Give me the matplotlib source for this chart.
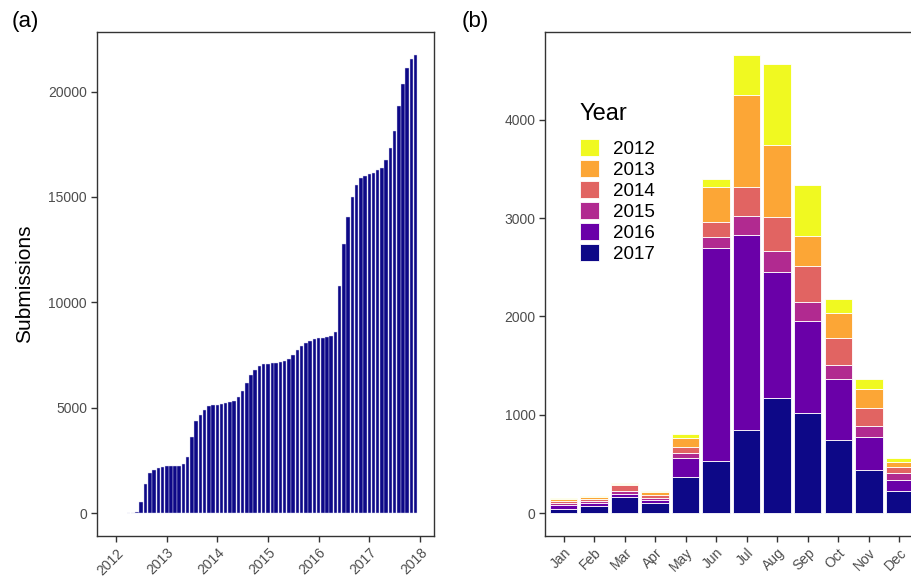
import matplotlib
matplotlib.use("Agg")
import matplotlib.pyplot as plt
import matplotlib.dates as mdates
import numpy as np
import pandas as pd

plt.rcParams['font.family'] = ['Liberation Sans', 'DejaVu Sans']

# ---------------- Panel (a): cumulative submissions ----------------
months_a = pd.date_range('2012-04-01', '2017-12-01', freq='MS')
cumulative = [5, 10, 40, 537, 1392, 1898, 2040, 2136, 2199, 2215, 2215, 2246,
              2246, 2325, 2674, 3623, 4351, 4651, 4904, 5095, 5127, 5143, 5174, 5222,
              5285, 5332, 5490, 5807, 6155, 6535, 6788, 6978, 7057, 7089, 7104, 7136,
              7168, 7215, 7326, 7516, 7737, 7927, 8069, 8180, 8259, 8291, 8322, 8354,
              8385, 8592, 10776, 12782, 14043, 14976, 15592, 15908, 16019, 16082, 16130, 16303,
              16398, 16777, 17314, 18152, 19305, 20348, 21104, 21531, 21739]
year_ticks = ['2012', '2013', '2014', '2015', '2016', '2017', '2018']
yticks_a = [0, 5000, 10000, 15000, 20000]

# ---------------- Panel (b): submissions by month and year ----------------
month_labels = ['Jan', 'Feb', 'Mar', 'Apr', 'May', 'Jun', 'Jul', 'Aug', 'Sep', 'Oct', 'Nov', 'Dec']
years = ['2012', '2013', '2014', '2015', '2016', '2017']
y2012 = [13, 15, 9, 15, 41, 85, 403, 833, 515, 143, 101, 37]
y2013 = [20, 20, 13, 24, 88, 352, 934, 727, 311, 250, 190, 51]
y2014 = [24, 22, 60, 34, 61, 156, 302, 349, 362, 277, 183, 61]
y2015 = [20, 19, 27, 23, 54, 108, 186, 213, 197, 139, 114, 74]
y2016 = [36, 31, 33, 29, 196, 2166, 1986, 1279, 930, 616, 335, 112]
y2017 = [42, 68, 165, 100, 362, 531, 846, 1171, 1022, 748, 437, 223]
colors = {'2012': '#F0F921', '2013': '#FCA636', '2014': '#E16462',
          '2015': '#B12A90', '2016': '#6A00A8', '2017': '#0D0887'}
yticks_b = [0, 1000, 2000, 3000, 4000]

W, H = 912, 580
fig = plt.figure(figsize=(W / 100, H / 100), dpi=100)

def ax_rect(l, t, r, b):
    return [l / W, 1 - b / H, (r - l) / W, (b - t) / H]

tick_col = '#4D4D4D'
spine_col = '#333333'

# ---- panel a ----
axa = fig.add_axes(ax_rect(96.7, 32, 434.3, 536))
xa = mdates.date2num(months_a)
axa.bar(xa, cumulative, width=25.2, color='#0D0887', edgecolor='#d8d8f0', linewidth=0.3)
t0 = mdates.date2num(pd.Timestamp('2012-01-01'))
t1 = mdates.date2num(pd.Timestamp('2018-01-01'))
ppd = (420.0 - 116.0) / (t1 - t0)
axa.set_xlim(t0 - (116.0 - 96.7) / ppd, t1 + (434.3 - 420.0) / ppd)
axa.set_ylim(-1090, 22830)
axa.set_xticks([mdates.date2num(pd.Timestamp(y + '-01-01')) for y in year_ticks])
axa.set_xticklabels(year_ticks, rotation=45, ha='right', va='top', rotation_mode='anchor')
axa.set_yticks(yticks_a)
axa.set_yticklabels([str(v) for v in yticks_a])
axa.set_ylabel('Submissions', fontsize=15, labelpad=10)

# ---- panel b ----
axb = fig.add_axes(ax_rect(545.3, 32, 917.6, 536))
xb = np.arange(len(month_labels))
stack = [('2017', y2017), ('2016', y2016), ('2015', y2015),
         ('2014', y2014), ('2013', y2013), ('2012', y2012)]
bottom = np.zeros(len(month_labels))
handles = {}
for yr, vals in stack:
    h = axb.bar(xb, vals, bottom=bottom, width=0.9, color=colors[yr],
                edgecolor='white', linewidth=0.6, label=yr)
    handles[yr] = h
    bottom += np.array(vals)
axb.set_xlim(-0.6, len(month_labels) - 1 + 0.6)
axb.set_ylim(-233, 4893)
axb.set_xticks(xb)
axb.set_xticklabels(month_labels, rotation=45, ha='right', va='top', rotation_mode='anchor')
axb.set_yticks(yticks_b)
axb.set_yticklabels([str(v) for v in yticks_b])

leg = axb.legend([handles[y] for y in years], years, title='Year',
                 loc='upper left', bbox_to_anchor=(580 / W, 1 - 103 / H),
                 bbox_transform=fig.transFigure, frameon=False,
                 fontsize=13.5, title_fontsize=17, handlelength=1.0, handleheight=1.0,
                 handletextpad=0.75, labelspacing=0.12, borderpad=0, borderaxespad=0)
leg._legend_box.align = 'left'
leg._legend_box.sep = 10

for ax in (axa, axb):
    for s in ax.spines.values():
        s.set_color(spine_col)
        s.set_linewidth(1.0)
    ax.tick_params(axis='both', colors=spine_col, labelcolor=tick_col, labelsize=10,
                   length=4, width=1.0, pad=3)
    ax.set_facecolor('white')

fig.text(12 / W, 1 - 22 / H, '(a)', fontsize=16, va='center', ha='left')
fig.text(462 / W, 1 - 22 / H, '(b)', fontsize=16, va='center', ha='left')

fig.savefig('out.png', dpi=100)
